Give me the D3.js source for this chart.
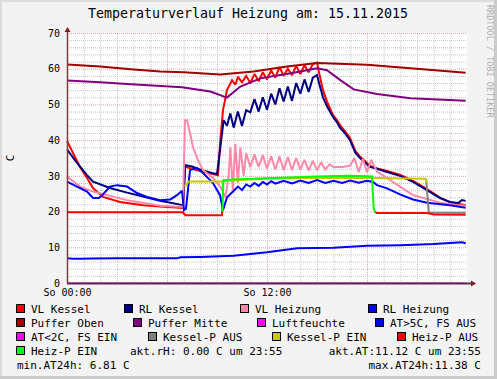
<!DOCTYPE html>
<html>
<head>
<meta charset="utf-8">
<script src="https://cdn.jsdelivr.net/npm/d3@7"></script>
<style>
  body { margin: 0; background: #f3f3f3; }
  svg { display: block; font-family: "DejaVu Sans Mono", monospace; }
</style>
</head>
<body>
<div id="chart"></div>
<script>
// ---- data (hour of day, value in C) ----
var chartTitle = "Temperaturverlauf Heizung am: 15.11.2015";
var yTicks = [0, 10, 20, 30, 40, 50, 60, 70];
var xLabels = [[0, "So 00:00"], [12, "So 12:00"]];

var vlKessel = [[0,39.8],[0.36,36.4],[0.78,32.5],[1.2,29.4],[1.56,26.6],[2.16,24.1],[3.18,22.7],[4.56,21.8],[6,21.3],[6.96,21.0],[7.08,32.6],[7.5,32.0],[8.1,31.2],[8.7,30.6],[9.06,30.2],[9.2,40],[9.36,48.4],[9.6,54],[9.9,56.8],[10.1,55.5],[10.26,57.7],[10.5,56.2],[10.75,58],[11,56],[11.25,58.5],[11.5,56.5],[11.75,59],[12,57],[12.25,59.5],[12.5,57.5],[12.75,60.5],[13,58],[13.25,60],[13.5,58.2],[13.75,60.8],[14,58.5],[14.25,61],[14.5,59],[14.75,61.3],[15,61.7],[15.18,57.7],[15.36,54],[15.6,50.8],[15.96,47],[16.2,45.6],[16.38,44.2],[16.7,42.4],[16.98,40.6],[17.3,37],[17.58,35.4],[18.18,32.8],[18.6,32.1],[19.2,31.4],[19.98,30.3],[20.76,28.6],[21.6,26.3],[22.38,23.9],[22.98,22.6],[23.46,22.2],[23.92,21.8]];

var rlKessel = [[0,37.4],[0.6,33.6],[1.2,30.2],[1.56,28.4],[2.58,26.6],[3.6,25.3],[4.56,24.2],[5.58,23],[6.96,21.8],[7.1,33],[7.5,32.6],[8.1,31.6],[8.7,30.8],[9.0,30.5],[9.2,38],[9.4,45.6],[9.6,44],[9.8,47.5],[10,43.5],[10.25,48],[10.5,44],[10.75,48.4],[11,47.8],[11.25,51.5],[11.5,48],[11.75,52],[12,48.5],[12.25,53],[12.5,50],[12.75,54.5],[13,50.8],[13.25,55],[13.5,51],[13.75,56],[14,53],[14.25,57],[14.5,53.5],[14.75,57.5],[15,58.2],[15.18,55],[15.36,52],[15.6,49.5],[15.96,46.5],[16.2,45],[16.38,43.5],[16.7,41.8],[16.98,40],[17.3,36.5],[17.58,35],[18.18,32.5],[18.6,32],[19.2,31.1],[19.98,30],[20.76,28.3],[21.6,26],[22.38,23.8],[22.98,22.7],[23.46,22.4],[23.7,23.2],[23.92,23]];

var vlHeizung = [[0,29.8],[0.78,27],[1.56,25.6],[2.58,24.4],[3.6,23.2],[5.58,21.6],[6.96,21.3],[7.08,45.6],[7.2,45.6],[7.38,42],[7.56,38],[7.86,34.4],[8.16,31.6],[8.76,29.4],[9.2,27],[9.5,24],[9.7,30],[9.8,38],[9.95,26],[10.1,39],[10.25,28],[10.4,38],[10.6,30],[10.75,36.4],[11,32.5],[11.25,36],[11.5,32.5],[11.75,35.8],[12,32],[12.25,35.5],[12.5,31.8],[12.75,35.5],[13,31.6],[13.25,35.3],[13.5,31.6],[13.75,35],[14,31.8],[14.25,34.5],[14.5,31.5],[14.75,34.2],[15,31.6],[15.25,33.8],[15.5,31.8],[15.75,33.2],[16,32.5],[16.5,32.5],[16.98,32.8],[17.25,35],[17.5,31],[17.75,34.8],[18,31],[18.25,34.5],[18.6,31.2],[19.2,29.4],[19.98,27],[20.76,24.6],[21.6,23.5],[22.38,22.5],[23.4,21.8],[23.92,21.6]];

var rlHeizung = [[0,28.4],[0.6,27],[1.2,25.6],[1.56,23.8],[1.9,23.8],[2.1,24.5],[2.58,27],[3.0,27.4],[3.6,27],[4.2,25.2],[4.8,24.1],[5.58,23.2],[6.2,23.4],[6.6,24.6],[6.9,25.8],[7.02,20.4],[7.14,20.8],[7.38,31.6],[7.8,32.2],[8.16,30.8],[8.76,28],[9.18,24.6],[9.36,20.4],[9.6,24],[9.96,25.6],[10.26,27],[10.5,26],[10.75,27.6],[11,27],[11.25,28],[11.5,27.2],[11.75,28.3],[12,27.6],[12.25,28.5],[12.5,27.8],[13,28.6],[13.5,27.9],[14,28.7],[14.5,28],[15,28.8],[15.5,28],[16,28.6],[16.5,28],[17,28.7],[17.5,28.1],[18,28.6],[18.36,28.3],[18.6,27.4],[19.2,26.5],[19.98,24.8],[20.76,23.4],[21.6,22.5],[22.98,21.8],[23.92,21.1]];

var pufferOben = [[0,61.2],[2,60.6],[4,59.8],[5.6,59.2],[7,59.0],[9.2,58.4],[11.2,59.2],[13.2,60.6],[15,61.6],[18,61.1],[20.6,60.1],[23.92,58.9]];

var pufferMitte = [[0,56.7],[2,56.2],[3.6,55.7],[6.9,54.8],[8.6,53.6],[9.6,51.9],[10.4,55],[11.6,57.3],[13.6,58.9],[15,60.1],[15.6,59.6],[16.4,56.8],[17.2,54.2],[18.6,52.9],[20.6,51.7],[23.92,51]];

var luftfeuchte = [[0,0],[23.92,0]];

var atFsAus = [[0,6.9],[0.36,6.8],[0.78,6.8],[1.5,6.85],[3,6.9],[5,6.9],[6.6,6.9],[6.8,7.2],[8,7.3],[10,7.6],[11,8.1],[12,8.6],[13.8,9.7],[16,9.9],[18,10.4],[20,10.6],[22,10.9],[23.7,11.38],[23.92,11.12]];

var kesselPAus = [[21.55,29.2],[21.7,20],[21.75,19.7],[23.92,19.7]];

var kesselPEin = [[7.06,27],[7.3,28.4],[9.3,28.4],[10,28.8],[12,29.2],[15,29.5],[18.4,29.4],[21.5,29.2],[21.6,28]];

var heizPAus1 = [[0,19.8],[6.95,19.8],[7.1,19.0],[9.3,19.0],[9.33,22]];
var heizPAus2 = [[18.45,20],[18.6,19.6],[21.6,19.6],[22,19.2],[23.92,19.1]];

var heizPEin = [[9.33,20],[9.38,28.8],[10,29],[12,29.3],[15,29.8],[17,30],[18.3,29.8],[18.4,21],[18.5,19.8]];

var legendRows = [
  ["VL Kessel", "RL Kessel", "VL Heizung", "RL Heizung"],
  ["Puffer Oben", "Puffer Mitte", "Luftfeuchte", "AT>5C, FS AUS"],
  ["AT<2C, FS EIN", "Kessel-P AUS", "Kessel-P EIN", "Heiz-P AUS"],
  ["Heiz-P EIN"]
];
var infoTexts = [
  "akt.rH: 0.00 C um 23:55",
  "akt.AT:11.12 C um 23:55",
  "min.AT24h: 6.81 C",
  "max.AT24h:11.38 C"
];

// ---- styles ----
var colors = {
  "VL Kessel": "#ff0000", "RL Kessel": "#000080", "VL Heizung": "#ff88aa",
  "RL Heizung": "#0000ff", "Puffer Oben": "#a00000", "Puffer Mitte": "#800080",
  "Luftfeuchte": "#ff00ff", "AT>5C, FS AUS": "#0000ff", "AT<2C, FS EIN": "#ff00ff",
  "Kessel-P AUS": "#808080", "Kessel-P EIN": "#c8c800", "Heiz-P AUS": "#ff0000",
  "Heiz-P EIN": "#00ff00"
};

// drawing order follows the legend
var lines = [
  ["VL Kessel", vlKessel], ["RL Kessel", rlKessel], ["VL Heizung", vlHeizung],
  ["RL Heizung", rlHeizung], ["Puffer Oben", pufferOben], ["Puffer Mitte", pufferMitte],
  ["Luftfeuchte", luftfeuchte], ["AT>5C, FS AUS", atFsAus],
  ["Kessel-P AUS", kesselPAus], ["Kessel-P EIN", kesselPEin],
  ["Heiz-P AUS", heizPAus1], ["Heiz-P AUS", heizPAus2], ["Heiz-P EIN", heizPEin]
];

var W = 497, H = 379;
var pL = 67, pR = 467, pT = 33, pB = 283;

var svg = d3.select("#chart").append("svg").attr("width", W).attr("height", H);

svg.append("rect").attr("width", W).attr("height", H).attr("fill", "#f3f3f3");
// frame shading
svg.append("rect").attr("x", 0).attr("y", 0).attr("width", W).attr("height", 2).attr("fill", "#dcdcdc");
svg.append("rect").attr("x", 0).attr("y", 0).attr("width", 2).attr("height", H).attr("fill", "#dcdcdc");
svg.append("rect").attr("x", W - 3).attr("y", 0).attr("width", 3).attr("height", H).attr("fill", "#cbcbcb");
svg.append("rect").attr("x", 0).attr("y", H - 3).attr("width", W).attr("height", 3).attr("fill", "#cbcbcb");

svg.append("rect").attr("x", pL).attr("y", pT).attr("width", pR - pL)
  .attr("height", pB - pT).attr("fill", "#ffffff");

var x = d3.scaleLinear().domain([0, 24]).range([pL, pR]);
var y = d3.scaleLinear().domain([0, 70]).range([pB, pT]);

// grid
var minorY = d3.range(0, 71, 2).filter(function(v) { return v % 10 !== 0; });
var minorX = d3.range(0, 24, 1).filter(function(v) { return v % 6 !== 0; });

function grid(g, color) {
  g.select(".domain").remove();
  g.selectAll("line").attr("stroke", color).attr("stroke-dasharray", "1,1");
}
svg.append("g").attr("transform", "translate(" + pL + ",0)")
  .call(d3.axisLeft(y).tickValues(minorY).tickSize(-(pR - pL)).tickFormat(""))
  .call(grid, "#c4c4c4");
svg.append("g").attr("transform", "translate(0," + pB + ")")
  .call(d3.axisBottom(x).tickValues(minorX).tickSize(-(pB - pT)).tickFormat(""))
  .call(grid, "#c4c4c4");
svg.append("g").attr("transform", "translate(" + pL + ",0)")
  .call(d3.axisLeft(y).tickValues(yTicks).tickSize(-(pR - pL)).tickFormat(""))
  .call(grid, "#e8a0a0");
svg.append("g").attr("transform", "translate(0," + pB + ")")
  .call(d3.axisBottom(x).tickValues([0, 6, 12, 18]).tickSize(-(pB - pT)).tickFormat(""))
  .call(grid, "#e8a0a0");

// series
var line = d3.line().x(function(d) { return x(d[0]); }).y(function(d) { return y(d[1]); });
lines.forEach(function(s) {
  svg.append("path").datum(s[1]).attr("d", line).attr("fill", "none")
    .attr("stroke", colors[s[0]]).attr("stroke-width", s[0] === "Luftfeuchte" ? 1 : 2)
    .attr("stroke-linejoin", "miter").attr("stroke-miterlimit", 2);
});

// axes (drawn over the Luftfeuchte line at 0)
svg.append("line").attr("x1", pL).attr("x2", pR + 4).attr("y1", pB + 0.5).attr("y2", pB + 0.5)
  .attr("stroke", "#5e2458").attr("stroke-width", 2);
svg.append("line").attr("x1", pL + 0.5).attr("x2", pL + 0.5).attr("y1", pB).attr("y2", pT - 4)
  .attr("stroke", "#7a3a3a").attr("stroke-width", 1.5);
svg.append("path").attr("d", "M" + (pL + 0.5) + "," + (pT - 6) + "l-3,5h6z").attr("fill", "#801f1f");
svg.append("path").attr("d", "M" + (pR + 9) + "," + (pB + 0.5) + "l-5,-3v6z").attr("fill", "#801f1f");

var yAxis = svg.append("g").attr("transform", "translate(" + pL + ",0)")
  .call(d3.axisLeft(y).tickValues(yTicks).tickSize(0).tickPadding(7));
yAxis.select(".domain").remove();
yAxis.selectAll("text").attr("font-size", 10).attr("font-family", "DejaVu Sans Mono").attr("fill", "#000");

var xAxis = svg.append("g").attr("transform", "translate(0," + pB + ")")
  .call(d3.axisBottom(x).tickValues(xLabels.map(function(d) { return d[0]; }))
    .tickSize(0).tickPadding(6)
    .tickFormat(function(v) { return xLabels.find(function(d) { return d[0] === v; })[1]; }));
xAxis.select(".domain").remove();
xAxis.selectAll("text").attr("font-size", 10).attr("font-family", "DejaVu Sans Mono").attr("fill", "#000");

// title and labels
svg.append("text").attr("x", 248).attr("y", 18).attr("text-anchor", "middle")
  .attr("font-size", 13.3).text(chartTitle);
svg.append("text").attr("transform", "translate(14,158) rotate(-90)")
  .attr("text-anchor", "middle").attr("font-size", 11).text("C");
svg.append("text").attr("transform", "translate(487,5) rotate(90)")
  .attr("font-size", 8.5).attr("fill", "#b0b0b0").text("RRDTOOL / TOBI OETIKER");

// legend
var rowBase = [313, 327, 341, 355, 369];
var swatchX = [[16, 124, 240, 368], [16, 133, 257, 375], [16, 148, 272, 397], [16]];
legendRows.forEach(function(row, r) {
  row.forEach(function(name, i) {
    var sx = swatchX[r][i];
    svg.append("rect").attr("x", sx + 0.5).attr("y", rowBase[r] - 8.5).attr("width", 8).attr("height", 8)
      .attr("fill", colors[name]).attr("stroke", "#000").attr("stroke-width", 1);
    svg.append("text").attr("x", sx + 15).attr("y", rowBase[r]).attr("font-size", 11).text(name);
  });
});
svg.append("text").attr("x", 130).attr("y", rowBase[3]).attr("font-size", 11).text(infoTexts[0]);
svg.append("text").attr("x", 481).attr("y", rowBase[3]).attr("font-size", 11).attr("text-anchor", "end").text(infoTexts[1]);
svg.append("text").attr("x", 17).attr("y", rowBase[4]).attr("font-size", 11).text(infoTexts[2]);
svg.append("text").attr("x", 481).attr("y", rowBase[4]).attr("font-size", 11).attr("text-anchor", "end").text(infoTexts[3]);
</script>
</body>
</html>
